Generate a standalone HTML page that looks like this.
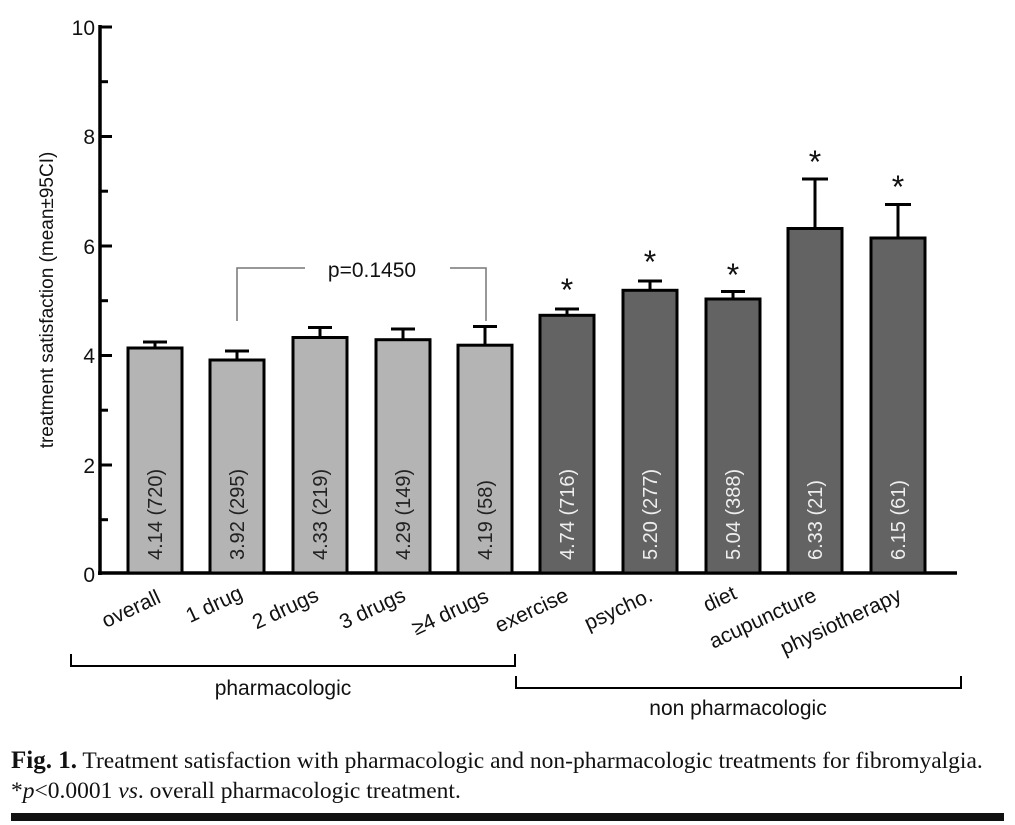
<!DOCTYPE html>
<html><head><meta charset="utf-8"><style>
body{margin:0;background:#fff;}
svg{display:block;}
</style></head><body>
<svg width="1015" height="825" xmlns="http://www.w3.org/2000/svg" font-family="Liberation Sans, Arial, sans-serif">
<rect width="1015" height="825" fill="#fff"/>
<!-- axes -->
<line x1="100" y1="25" x2="100" y2="575" stroke="#000" stroke-width="3.5"/>
<line x1="98" y1="573" x2="957" y2="573" stroke="#000" stroke-width="3.5"/>
<g stroke="#000" stroke-width="3">
<line x1="100" y1="27" x2="112" y2="27"/><line x1="100" y1="81.7" x2="108" y2="81.7"/>
<line x1="100" y1="136.5" x2="112" y2="136.5"/><line x1="100" y1="191.2" x2="108" y2="191.2"/>
<line x1="100" y1="246" x2="112" y2="246"/><line x1="100" y1="300.7" x2="108" y2="300.7"/>
<line x1="100" y1="355.5" x2="112" y2="355.5"/><line x1="100" y1="410.2" x2="108" y2="410.2"/>
<line x1="100" y1="465" x2="112" y2="465"/><line x1="100" y1="519.7" x2="108" y2="519.7"/>
</g>
<g font-size="21" text-anchor="end" fill="#111">
<text x="95" y="35">10</text><text x="95" y="144">8</text><text x="95" y="254">6</text>
<text x="95" y="363">4</text><text x="95" y="473">2</text><text x="95" y="582">0</text>
</g>
<text transform="translate(53,300) rotate(-90)" font-size="19" text-anchor="middle" fill="#111">treatment satisfaction (mean±95CI)</text>
<!-- bars -->
<g stroke="#000" stroke-width="3">
<rect x="128" y="348" width="54" height="225" fill="#b4b4b4"/>
<rect x="210" y="360" width="54" height="213" fill="#b4b4b4"/>
<rect x="293" y="337.5" width="54" height="235.5" fill="#b4b4b4"/>
<rect x="376" y="339.7" width="54" height="233.3" fill="#b4b4b4"/>
<rect x="458" y="345.2" width="54" height="227.8" fill="#b4b4b4"/>
<rect x="540" y="315.3" width="54" height="257.7" fill="#636363"/>
<rect x="623" y="290.3" width="54" height="282.7" fill="#636363"/>
<rect x="706" y="299" width="54" height="274" fill="#636363"/>
<rect x="788" y="228.5" width="54" height="344.5" fill="#636363"/>
<rect x="871" y="238" width="54" height="335" fill="#636363"/>
</g>
<!-- error bars -->
<g stroke="#000" stroke-width="3">
<path d="M155 348V342M143 342H167"/>
<path d="M237 360V351M225 351H249"/>
<path d="M320 337V327.5M308 327.5H332"/>
<path d="M403 339V329M391 329H415"/>
<path d="M485 345V326.5M473 326.5H497"/>
<path d="M567 315V309M555 309H579"/>
<path d="M650 290V281M638 281H662"/>
<path d="M733 299V291.5M721 291.5H745"/>
<path d="M815 228V179M802 179H828"/>
<path d="M898 238V204.5M885 204.5H911"/>
</g>
<g font-size="32" text-anchor="middle" fill="#111">
<text x="567" y="301">*</text><text x="650" y="273">*</text><text x="733" y="286">*</text>
<text x="815" y="173">*</text><text x="898" y="198">*</text>
</g>
<!-- p bracket -->
<path d="M237 321V268H305M450 268H486V321" stroke="#777" stroke-width="1.5" fill="none"/>
<text x="372" y="277" font-size="21" text-anchor="middle" fill="#111">p=0.1450</text>
<!-- in-bar labels -->
<g font-size="20" fill="#222">
<text transform="translate(162,560) rotate(-90)">4.14 (720)</text>
<text transform="translate(244,560) rotate(-90)">3.92 (295)</text>
<text transform="translate(327,560) rotate(-90)">4.33 (219)</text>
<text transform="translate(410,560) rotate(-90)">4.29 (149)</text>
<text transform="translate(492,560) rotate(-90)">4.19 (58)</text>
</g>
<g font-size="20" fill="#eee">
<text transform="translate(574,560) rotate(-90)">4.74 (716)</text>
<text transform="translate(657,560) rotate(-90)">5.20 (277)</text>
<text transform="translate(740,560) rotate(-90)">5.04 (388)</text>
<text transform="translate(822,560) rotate(-90)">6.33 (21)</text>
<text transform="translate(905,560) rotate(-90)">6.15 (61)</text>
</g>
<!-- x labels -->
<g font-size="21" text-anchor="end" fill="#111">
<text transform="translate(162,602) rotate(-25)">overall</text>
<text transform="translate(244,598) rotate(-25)">1 drug</text>
<text transform="translate(320,600) rotate(-25)">2 drugs</text>
<text transform="translate(407,600) rotate(-25)">3 drugs</text>
<text transform="translate(490,601) rotate(-25)">≥4 drugs</text>
<text transform="translate(570,600) rotate(-25)">exercise</text>
<text transform="translate(654,600) rotate(-25)">psycho.</text>
<text transform="translate(738,598) rotate(-25)">diet</text>
<text transform="translate(818,600) rotate(-25)">acupuncture</text>
<text transform="translate(903,600) rotate(-25)">physiotherapy</text>
</g>
<!-- group brackets -->
<path d="M71 654V666H515V654" stroke="#000" stroke-width="2" fill="none"/>
<text x="283" y="695" font-size="21" text-anchor="middle" fill="#111">pharmacologic</text>
<path d="M516 676V688H961V676" stroke="#000" stroke-width="2" fill="none"/>
<text x="738" y="715" font-size="21" text-anchor="middle" fill="#111">non pharmacologic</text>
<!-- caption -->
<text x="11" y="768" font-family="Liberation Serif, serif" font-size="23.5" fill="#111"><tspan font-weight="bold" font-size="25">Fig. 1.</tspan> Treatment satisfaction with pharmacologic and non-pharmacologic treatments for fibromyalgia.</text>
<text x="11" y="798" font-family="Liberation Serif, serif" font-size="23.5" fill="#111">*<tspan font-style="italic">p</tspan>&lt;0.0001 <tspan font-style="italic">vs</tspan>. overall pharmacologic treatment.</text>
<rect x="11" y="813" width="993" height="8" fill="#111"/>
</svg>
</body></html>
